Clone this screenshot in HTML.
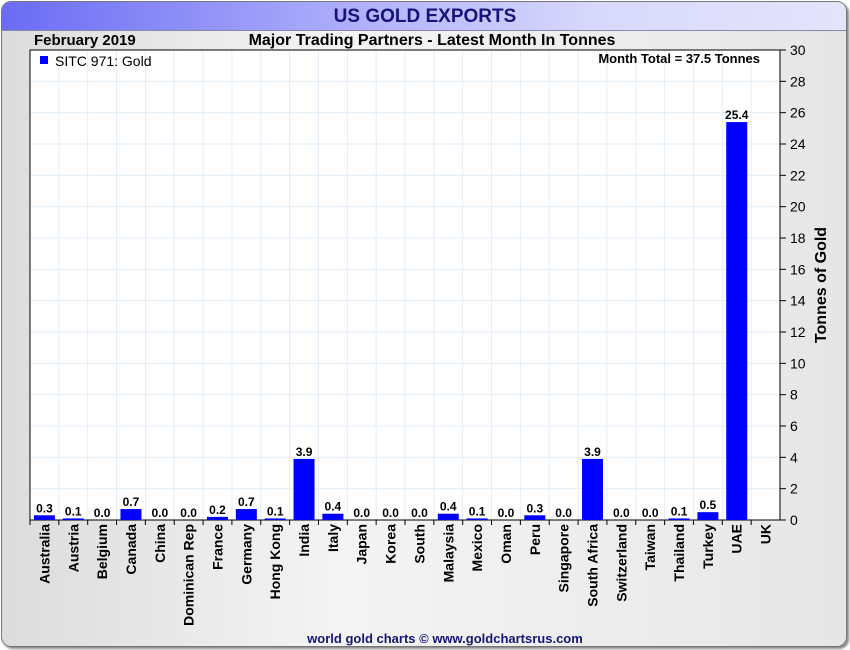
<!DOCTYPE html>
<html><head><meta charset="utf-8"><style>
body{margin:0;width:850px;height:650px;overflow:hidden;background:#fff;font-family:"Liberation Sans",sans-serif}
#frame{position:absolute;left:1px;top:1px;width:844px;height:644px;border:1px solid #777;border-radius:10px;background:linear-gradient(90deg,#dcdcdc,#f4f4f4 40%,#e6e6e6);box-shadow:2px 2px 2px #888;overflow:hidden}
#hdr{position:absolute;left:0;top:0;width:844px;height:28px;background:linear-gradient(90deg,#6b6bf5,#b4b4fb 45%,#d8d8fc 70%,#e4e4fc);border-bottom:1px solid #8888aa}
</style></head><body>
<div id="frame"><div id="hdr"></div></div>
<svg id="c" width="850" height="650" style="position:absolute;left:0;top:0"></svg>
<script>
const categories=["Australia","Austria","Belgium","Canada","China","Dominican Rep","France","Germany","Hong Kong","India","Italy","Japan","Korea","South","Malaysia","Mexico","Oman","Peru","Singapore","South Africa","Switzerland","Taiwan","Thailand","Turkey","UAE","UK"];
const values=[0.3,0.1,0.0,0.7,0.0,0.0,0.2,0.7,0.1,3.9,0.4,0.0,0.0,0.0,0.4,0.1,0.0,0.3,0.0,3.9,0.0,0.0,0.1,0.5,25.4,null];
const yTicks=[0,2,4,6,8,10,12,14,16,18,20,22,24,26,28,30];
const L=30,R=780,T=50,B=520,YMAX=30;
const svg=document.getElementById('c');const NS="http://www.w3.org/2000/svg";
const y=v=>B-(v/YMAX)*(B-T);
const bw=(R-L)/categories.length;
const x=i=>L+i*bw;
function mk(t,a,txt){const e=document.createElementNS(NS,t);for(const k in a)e.setAttribute(k,a[k]);if(txt!==undefined)e.textContent=txt;svg.appendChild(e);return e;}
let e;
e=mk('text',{x:425,y:22,'text-anchor':'middle','font-size':19,'font-weight':'bold',fill:'#14147a'},'US GOLD EXPORTS');

e=mk('text',{x:34,y:45,'font-size':15,'font-weight':'bold',fill:'#000'},'February 2019');

e=mk('text',{x:432,y:45,'text-anchor':'middle','font-size':16,'font-weight':'bold',fill:'#000'},'Major Trading Partners - Latest Month In Tonnes');

e=mk('rect',{x:L,y:T,width:R-L,height:B-T,fill:'#fff',stroke:'none'});

yTicks.forEach(v=>{if(v>0&&v<YMAX){e=mk('line',{x1:L,x2:R,y1:y(v),y2:y(v),stroke:'#e2eef8','stroke-width':1});
}});
for(let i=1;i<categories.length;i++){e=mk('line',{x1:x(i),x2:x(i),y1:T,y2:B,stroke:'#e2eef8','stroke-width':1});
}
e=mk('rect',{x:L,y:T,width:R-L,height:B-T,fill:'none',stroke:'#000','stroke-width':1});

yTicks.forEach(v=>{e=mk('line',{x1:R,x2:R+6,y1:y(v),y2:y(v),stroke:'#000'});

e=mk('text',{x:R+10,y:y(v)+5,'font-size':14,fill:'#000'},String(v));
});
e=mk('text',{x:0,y:0,'font-size':16,'font-weight':'bold',fill:'#000','text-anchor':'middle',transform:'translate(826,285) rotate(-90)'},'Tonnes of Gold');

categories.forEach((c,i)=>{
 e=mk('line',{x1:x(i),x2:x(i),y1:B,y2:B+5,stroke:'#000'});
 
 const cx=x(i)+bw/2;
 e=mk('text',{x:0,y:0,'font-size':14,'font-weight':'bold',fill:'#000','text-anchor':'end',transform:`translate(${cx+5},${B+4}) rotate(-90)`},c);
 
 const v=values[i];
 if(v!==null){
  const h=Math.max(B-y(v),0);
  if(h>0){e=mk('rect',{x:cx-10.5,y:y(v),width:21,height:h,fill:'#0000ff'});
  }
  e=mk('text',{x:cx,y:y(v)-3,'font-size':12,'font-weight':'bold','text-anchor':'middle',fill:'#000'},v.toFixed(1));
  
 }
});
e=mk('rect',{x:40,y:56,width:8,height:8,fill:'#0000ff'});

e=mk('text',{x:55,y:66,'font-size':14,fill:'#000'},'SITC 971: Gold');

e=mk('text',{x:760,y:63,'font-size':13,'font-weight':'bold','text-anchor':'end',fill:'#000'},'Month Total = 37.5 Tonnes');

e=mk('text',{x:445,y:643,'font-size':13,'font-weight':'bold','text-anchor':'middle',fill:'#14147a'},'world gold charts © www.goldchartsrus.com');

</script>
</body></html>
